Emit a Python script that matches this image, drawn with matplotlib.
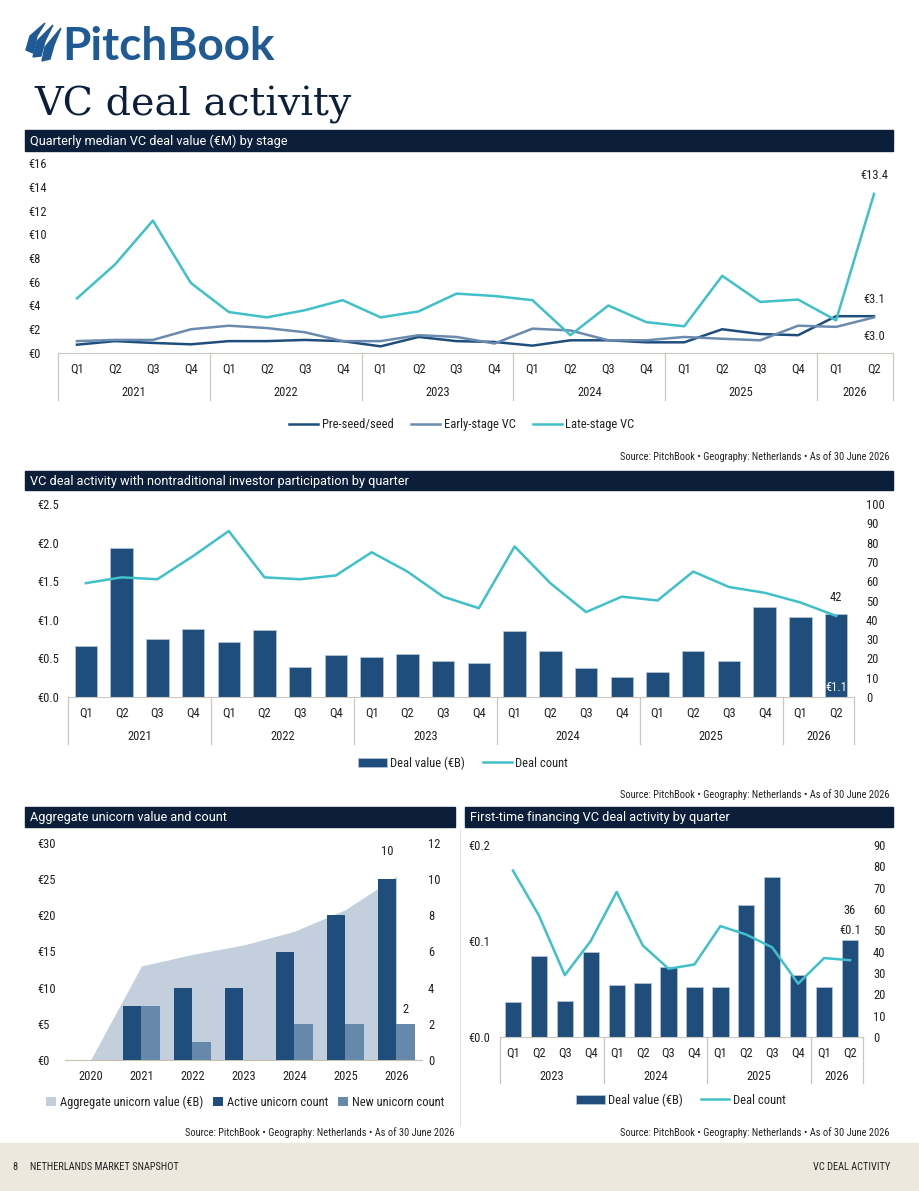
import matplotlib
matplotlib.use('Agg')
import matplotlib.pyplot as plt
from matplotlib import font_manager, transforms
from matplotlib.patches import Rectangle, Polygon
from matplotlib.ticker import FuncFormatter

W, H = 920, 1191

# ---- data -------------------------------------------------------------
quarters = ['Q1', 'Q2', 'Q3', 'Q4'] * 5 + ['Q1', 'Q2']
quarter_years = [y for y in ['2021', '2022', '2023', '2024', '2025'] for _ in range(4)] + ['2026', '2026']

preseed = [0.7, 1.0, 0.85, 0.73, 1.0, 1.0, 1.1, 1.0, 0.56, 1.35, 1.0, 0.93,
           0.62, 1.07, 1.07, 0.9, 0.9, 2.0, 1.6, 1.5, 3.1, 3.1]
early = [1.0, 1.1, 1.1, 2.0, 2.3, 2.1, 1.75, 1.0, 1.0, 1.5, 1.35, 0.8,
         2.05, 1.9, 1.07, 1.07, 1.35, 1.2, 1.07, 2.3, 2.2, 3.0]
late = [4.6, 7.45, 11.15, 5.9, 3.45, 3.0, 3.6, 4.45, 3.0, 3.5, 5.0, 4.8,
        4.45, 1.5, 4.0, 2.6, 2.25, 6.5, 4.3, 4.5, 2.75, 13.4]

nontrad_value = [0.66, 1.93, 0.75, 0.88, 0.71, 0.87, 0.39, 0.55, 0.52, 0.56, 0.47, 0.44,
                 0.85, 0.59, 0.375, 0.265, 0.325, 0.595, 0.46, 1.16, 1.04, 1.08]
nontrad_count = [59, 62, 61, 73, 86, 62, 61, 63, 75, 65, 52, 46,
                 78, 59, 44, 52, 50, 65, 57, 54, 49, 42]

unicorn_years = ['2020', '2021', '2022', '2023', '2024', '2025', '2026']
unicorn_value = [0, 13.0, 14.6, 15.9, 17.8, 20.8, 25.4]
active_count = [0, 3, 4, 4, 6, 8, 10]
new_count = [0, 3, 1, 0, 2, 2, 2]

ft_quarters = ['Q1', 'Q2', 'Q3', 'Q4'] * 3 + ['Q1', 'Q2']
ft_years = [y for y in ['2023', '2024', '2025'] for _ in range(4)] + ['2026', '2026']
ft_value = [0.036, 0.084, 0.037, 0.089, 0.054, 0.056, 0.073, 0.052,
            0.052, 0.138, 0.167, 0.065, 0.052, 0.101]
ft_count = [78, 57, 29, 45, 68, 43, 32, 34, 52, 48, 42, 25, 37, 36]

# ---- style ------------------------------------------------------------
names = {f.name for f in font_manager.fontManager.ttflist}
base_font = 'DejaVu Sans'
for cand in ['Roboto Condensed', 'Liberation Sans Narrow', 'Roboto']:
    if cand in names:
        base_font = cand
        break
plt.rcParams['font.family'] = [base_font, 'DejaVu Sans']
plt.rcParams['font.size'] = 9
plt.rcParams['text.color'] = '#222222'
plt.rcParams['xtick.color'] = '#222222'
plt.rcParams['ytick.color'] = '#222222'

NAVY = '#0b1f3b'
DARK = '#1f4e7d'
EARLY = '#6a8bad'
TEAL = '#40c0c8'
NEW = '#6688aa'
AREA = '#c3cfdd'
SEP = '#cbc7bf'
PX = 0.72  # points per pixel at dpi 100

fig = plt.figure(figsize=(W / 100, H / 100), dpi=100)

# background layer for headers, logo, footer
bg = fig.add_axes([0, 0, 1, 1], zorder=-1)
bg.set_xlim(0, W)
bg.set_ylim(H, 0)
bg.axis('off')


def add_ax(x0, y0, x1, y1):
    ax = fig.add_axes([x0 / W, 1 - y1 / H, (x1 - x0) / W, (y1 - y0) / H])
    ax.set_facecolor('none')
    for s in ['top', 'right', 'left']:
        ax.spines[s].set_visible(False)
    ax.spines['bottom'].set_color(SEP)
    return ax


def header(x0, y0, x1, y1, text):
    bg.add_patch(Rectangle((x0, y0), x1 - x0, y1 - y0, color=NAVY))
    bg.text(x0 + 5, (y0 + y1) / 2 + 0.5, text, color='white', fontsize=9.2, va='center',
            fontfamily=['Roboto', 'DejaVu Sans'])


def left_ticks(ax, pad_px, fmt):
    ax.yaxis.set_major_formatter(FuncFormatter(fmt))
    ax.tick_params(axis='y', length=0, pad=pad_px * PX)
    for lab in ax.get_yticklabels():
        lab.set_horizontalalignment('left')


def cat_axis(ax, qlabels, ylabels, h_px, depth_px):
    n = len(qlabels)
    ax.set_xlim(-0.5, n - 0.5)
    ax.set_xticks(range(n))
    ax.set_xticklabels(qlabels)
    ax.tick_params(axis='x', length=0, pad=7)
    trans = transforms.blended_transform_factory(ax.transData, ax.transAxes)
    bounds = [-0.5] + [i - 0.5 for i in range(1, n) if ylabels[i] != ylabels[i - 1]] + [n - 0.5]
    for b in bounds:
        ax.plot([b, b], [0, -depth_px / h_px], transform=trans, color=SEP, lw=0.9, clip_on=False)
    for a, b in zip(bounds[:-1], bounds[1:]):
        ax.text((a + b) / 2, -39 / h_px, ylabels[int(a + 0.5)], transform=trans,
                ha='center', va='center')


def source(x, y):
    bg.text(x, y, 'Source: PitchBook \u2022 Geography: Netherlands \u2022 As of 30 June 2026',
            fontsize=7.5, ha='right', va='center')


# ---- logo and title ---------------------------------------------------
for poly in ([(26, 50), (30, 36), (45, 23), (37, 36), (33, 53)],
             [(33, 57), (37, 41), (53, 25), (45, 41), (41, 56)],
             [(42, 61), (45, 47), (61, 28), (54, 45), (50, 59)]):
    bg.add_patch(Polygon(poly, closed=True, color='#1f5a94'))
bg.text(62, 60, 'PitchBook', fontsize=33, color='#1f5a94', fontfamily='Lato',
        fontweight='bold', va='baseline', ha='left')
bg.text(34, 115, 'VC deal activity', fontsize=28.5, color='#0b1f3b',
        fontfamily='DejaVu Serif', va='baseline', ha='left')

# ---- chart 1: median deal value by stage ------------------------------
header(25, 130, 893, 151, 'Quarterly median VC deal value (\u20acM) by stage')
ax1 = add_ax(58, 163, 893, 353)
x = range(len(quarters))
ax1.plot(x, preseed, color=DARK, lw=1.8, label='Pre-seed/seed')
ax1.plot(x, early, color=EARLY, lw=1.8, label='Early-stage VC')
ax1.plot(x, late, color=TEAL, lw=1.8, label='Late-stage VC')
ax1.set_ylim(0, 16)
ax1.set_yticks(range(0, 17, 2))
left_ticks(ax1, 30, lambda v, p: f'\u20ac{v:.0f}')
cat_axis(ax1, quarters, quarter_years, 190, 47)
ax1.annotate(f'\u20ac{late[-1]:.1f}', (21, late[-1]), xytext=(0, 13), textcoords='offset points',
             ha='center', va='center')
ax1.annotate(f'\u20ac{preseed[-1]:.1f}', (21, preseed[-1]), xytext=(0, 12), textcoords='offset points',
             ha='center', va='center')
ax1.annotate(f'\u20ac{early[-1]:.1f}', (21, early[-1]), xytext=(0, -14), textcoords='offset points',
             ha='center', va='center')
ax1.legend(loc='center', bbox_to_anchor=(462 / W, 1 - 425 / H), bbox_transform=fig.transFigure,
           ncol=3, frameon=False, handlelength=2.3, columnspacing=1.4, handletextpad=0.3)
source(890, 457)

# ---- chart 2: nontraditional investor participation --------------------
header(25, 471, 893, 490, 'VC deal activity with nontraditional investor participation by quarter')
ax2 = add_ax(68, 504, 854, 697)
ax2.bar(x, nontrad_value, width=0.63, color=DARK, edgecolor='#b8c8d8', lw=0.5,
        label='Deal value (\u20acB)', zorder=2)
ax2.set_ylim(0, 2.5)
ax2.set_yticks([0, 0.5, 1.0, 1.5, 2.0, 2.5])
left_ticks(ax2, 31, lambda v, p: f'\u20ac{v:.1f}')
cat_axis(ax2, quarters, quarter_years, 193, 47)
ax2r = ax2.twinx()
for s in ax2r.spines.values():
    s.set_visible(False)
ax2r.plot(x, nontrad_count, color=TEAL, lw=1.8, label='Deal count', zorder=3)
ax2r.set_ylim(0, 100)
ax2r.set_yticks(range(0, 101, 10))
ax2r.tick_params(axis='y', length=0, pad=12 * PX)
ax2r.annotate(f'{nontrad_count[-1]}', (21, nontrad_count[-1]), xytext=(0, 13),
              textcoords='offset points', ha='center', va='center')
ax2.text(21, 0.04, f'\u20ac{nontrad_value[-1]:.1f}', color='white', ha='center', va='bottom', zorder=4)
h1, l1 = ax2.get_legend_handles_labels()
h2, l2 = ax2r.get_legend_handles_labels()
ax2r.legend(h1 + h2, l1 + l2, loc='center', bbox_to_anchor=(463 / W, 1 - 763 / H),
            bbox_transform=fig.transFigure, ncol=2, frameon=False, handlelength=2.3,
            handleheight=0.8, columnspacing=1.4, handletextpad=0.3)
source(890, 795)

# ---- chart 3: unicorns --------------------------------------------------
header(25, 807, 455, 827, 'Aggregate unicorn value and count')
ax3 = add_ax(65, 843, 422, 1060)
ux = range(len(unicorn_years))
ax3.fill_between(ux, unicorn_value, color=AREA, lw=0, label='Aggregate unicorn value (\u20acB)', zorder=1)
ax3.set_ylim(0, 30)
ax3.set_yticks(range(0, 31, 5))
ax3.set_xlim(-0.5, len(unicorn_years) - 0.5)
ax3.set_xticks(ux)
ax3.set_xticklabels(unicorn_years)
ax3.tick_params(axis='x', length=0, pad=7)
ax3.spines['bottom'].set_color('#c8bfae')
left_ticks(ax3, 28, lambda v, p: f'\u20ac{v:.0f}')
ax3r = ax3.twinx()
for s in ax3r.spines.values():
    s.set_visible(False)
bw = 0.37
ax3r.bar([i - bw / 2 for i in ux], active_count, width=bw, color=DARK, lw=0,
         label='Active unicorn count', zorder=2)
ax3r.bar([i + bw / 2 for i in ux], new_count, width=bw, color=NEW, lw=0,
         label='New unicorn count', zorder=2)
ax3r.set_ylim(0, 12)
ax3r.set_yticks(range(0, 13, 2))
ax3r.tick_params(axis='y', length=0, pad=6 * PX)
ax3r.annotate(f'{active_count[-1]}', (6 - bw / 2, active_count[-1]), xytext=(0, 20),
              textcoords='offset points', ha='center', va='center')
ax3r.annotate(f'{new_count[-1]}', (6 + bw / 2, new_count[-1]), xytext=(0, 10),
              textcoords='offset points', ha='center', va='center')
h1, l1 = ax3.get_legend_handles_labels()
h2, l2 = ax3r.get_legend_handles_labels()
ax3r.legend(h1 + h2, l1 + l2, loc='center', bbox_to_anchor=(245 / W, 1 - 1102 / H),
            bbox_transform=fig.transFigure, ncol=3, frameon=False, handlelength=0.8,
            handleheight=0.8, columnspacing=0.8, handletextpad=0.3)
source(455, 1133)

# ---- chart 4: first-time financing -------------------------------------
header(465, 807, 893, 827, 'First-time financing VC deal activity by quarter')
ax4 = add_ax(500, 845, 863, 1037)
fx = range(len(ft_quarters))
ax4.bar(fx, ft_value, width=0.63, color=DARK, edgecolor='#b8c8d8', lw=0.5,
        label='Deal value (\u20acB)', zorder=2)
ax4.set_ylim(0, 0.2)
ax4.set_yticks([0, 0.1, 0.2])
left_ticks(ax4, 32, lambda v, p: f'\u20ac{v:.1f}')
cat_axis(ax4, ft_quarters, ft_years, 192, 46)
ax4r = ax4.twinx()
for s in ax4r.spines.values():
    s.set_visible(False)
ax4r.plot(fx, ft_count, color=TEAL, lw=1.8, label='Deal count', zorder=3)
ax4r.set_ylim(0, 90)
ax4r.set_yticks(range(0, 91, 10))
ax4r.tick_params(axis='y', length=0, pad=10 * PX)
ax4.annotate(f'\u20ac{ft_value[-1]:.1f}', (13, ft_value[-1]), xytext=(0, 7),
             textcoords='offset points', ha='center', va='center')
ax4.annotate(f'{ft_count[-1]}', (13, ft_value[-1]), xytext=(0, 21),
             textcoords='offset points', ha='center', va='center')
h1, l1 = ax4.get_legend_handles_labels()
h2, l2 = ax4r.get_legend_handles_labels()
ax4r.legend(h1 + h2, l1 + l2, loc='center', bbox_to_anchor=(681 / W, 1 - 1100 / H),
            bbox_transform=fig.transFigure, ncol=2, frameon=False, handlelength=2.3,
            handleheight=0.8, columnspacing=1.4, handletextpad=0.3)
source(890, 1133)

# divider between bottom charts
bg.plot([460, 460], [830, 1125], color='#e2e2e2', lw=0.8)

# ---- footer -------------------------------------------------------------
bg.add_patch(Rectangle((0, 1143), W, H - 1143, color='#ece8de'))
bg.text(12, 1167, '8', fontsize=7.5, va='center')
bg.text(30, 1167, 'NETHERLANDS MARKET SNAPSHOT', fontsize=7.5, va='center')
bg.text(890, 1167, 'VC DEAL ACTIVITY', fontsize=7.5, va='center', ha='right')

fig.savefig('out.png', dpi=100)
